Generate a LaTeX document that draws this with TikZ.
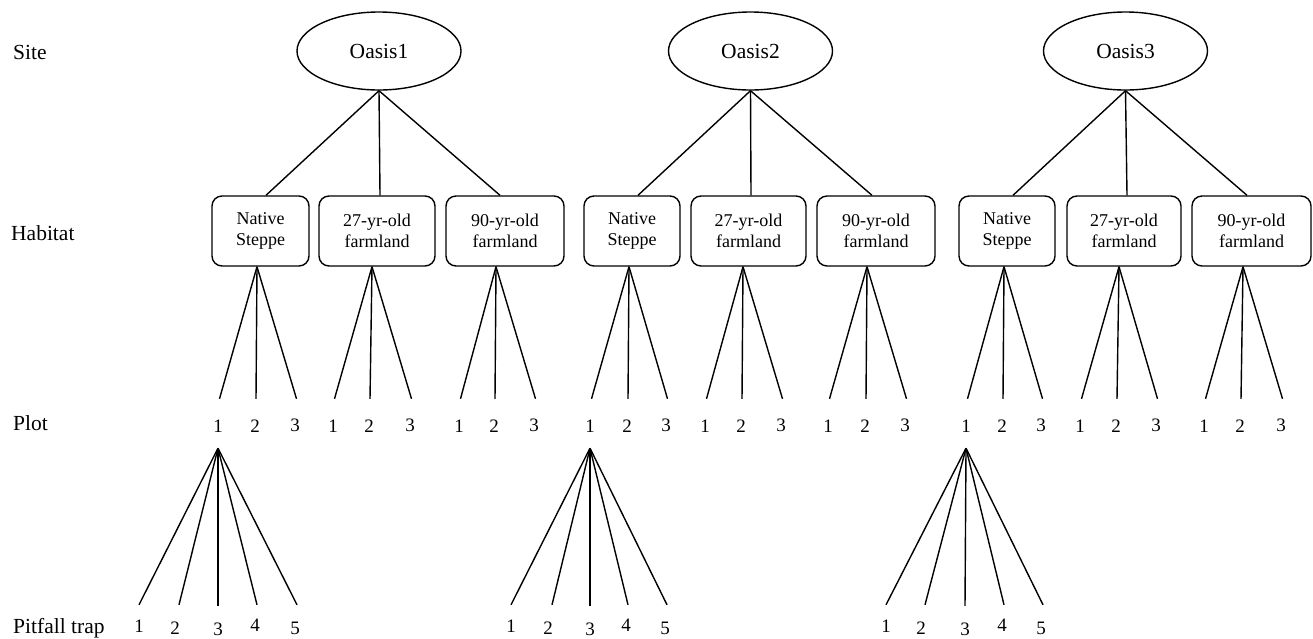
\documentclass[tikz,border=0pt]{standalone}
\usepackage{fontspec}
\setmainfont{Liberation Serif}
\usetikzlibrary{shapes.geometric}
\begin{document}
\begin{tikzpicture}[x=1pt,y=-1pt,
  site/.style={ellipse, draw, line width=1.4pt, minimum width=164pt, minimum height=78pt, inner sep=0pt, font=\fontsize{21.5}{24}\selectfont},
  hab/.style={draw, line width=1.4pt, rounded corners=10pt, minimum height=70pt, inner sep=0pt, align=center, font=\fontsize{18}{20.5}\selectfont},
  num/.style={inner sep=0pt, anchor=base, text height=13pt, text depth=0pt, font=\fontsize{19}{21}\selectfont},
  lvl/.style={inner sep=0pt, anchor=base west, font=\fontsize{21.5}{24}\selectfont},
  conn/.style={line width=1.4pt}]
\useasboundingbox (0,0) rectangle (1313,638);

% level labels
\node[lvl] (lsite) at (13,59) {Site};
\node[lvl] (lhab) at (11,240.5) {Habitat};
\node[lvl] (lplot) at (13,430) {Plot};
\node[lvl] (ltrap) at (13,633) {Pitfall trap};

% sites
\node[site] (O1) at (379,51) {Oasis1};
\node[site] (O2) at (750.5,51) {Oasis2};
\node[site] (O3) at (1125.5,51) {Oasis3};

% habitats
\node[hab, minimum width=97pt]  (b1) at (260.5,231) {Native\\Steppe};
\node[hab, minimum width=116pt] (b2) at (377,231) {27-yr-old\\farmland};
\node[hab, minimum width=118pt] (b3) at (505,231) {90-yr-old\\farmland};
\node[hab, minimum width=96pt]  (b4) at (632,231) {Native\\Steppe};
\node[hab, minimum width=115pt] (b5) at (748.5,231) {27-yr-old\\farmland};
\node[hab, minimum width=118pt] (b6) at (876,231) {90-yr-old\\farmland};
\node[hab, minimum width=96pt]  (b7) at (1007,231) {Native\\Steppe};
\node[hab, minimum width=114pt] (b8) at (1124,231) {27-yr-old\\farmland};
\node[hab, minimum width=119pt] (b9) at (1251.5,231) {90-yr-old\\farmland};

% site -> habitat
\foreach \o/\b/\d in {O1/b1/5.5, O1/b2/3, O1/b3/-5,
                      O2/b4/6, O2/b5/2.5, O2/b6/-4,
                      O3/b7/6, O3/b8/3, O3/b9/-4.5}
  \draw[conn] (\o.south) -- ([xshift=\d]\b.north);

% plots and habitat -> plot
\foreach \b/\xa/\xb/\xc/\d in {1/218/255/295/-3.5, 2/333/369/410/-5, 3/459/494/534/-9,
                               4/590/627/666/-3, 5/705/741/781/-5.5, 6/828/865/905/-9,
                               7/966/1002/1041/-3, 8/1080/1116/1156/-5, 9/1204/1240/1281/-8.5}{
  \node[num] (p\b1) at (\xa,432) {1};
  \node[num] (p\b2) at (\xb,432) {2};
  \node[num] (p\b3) at (\xc,431) {3};
  \draw[conn] ([xshift=\d]b\b.south) -- ([xshift=1.5,yshift=20]p\b1.north);
  \draw[conn] ([xshift=\d]b\b.south) -- ([xshift=1,yshift=20]p\b2.north);
  \draw[conn] ([xshift=\d]b\b.south) -- ([xshift=1.5,yshift=19]p\b3.north);
}

% pitfall traps
\foreach \g/\xa/\xb/\xc/\xd/\xe in {1/139/175/218/255/295, 4/511/548/590/626/665, 7/886/921/965/1002/1041}{
  \coordinate (a\g) at ([yshift=-16]p\g1.south);
  \node[num] (t\g1) at (\xa,632) {1};
  \node[num] (t\g2) at (\xb,634) {2};
  \node[num] (t\g3) at (\xc,635) {3};
  \node[num] (t\g4) at (\xd,631) {4};
  \node[num] (t\g5) at (\xe,634) {5};
  \draw[conn] (a\g) -- ([yshift=14]t\g1.north);
  \draw[conn] (a\g) -- ([xshift=4,yshift=16]t\g2.north);
  \draw[conn] (a\g) -- ([yshift=16]t\g3.north);
  \draw[conn] (a\g) -- ([xshift=2,yshift=13]t\g4.north);
  \draw[conn] (a\g) -- ([xshift=2,yshift=16]t\g5.north);
}
\end{tikzpicture}
\end{document}
